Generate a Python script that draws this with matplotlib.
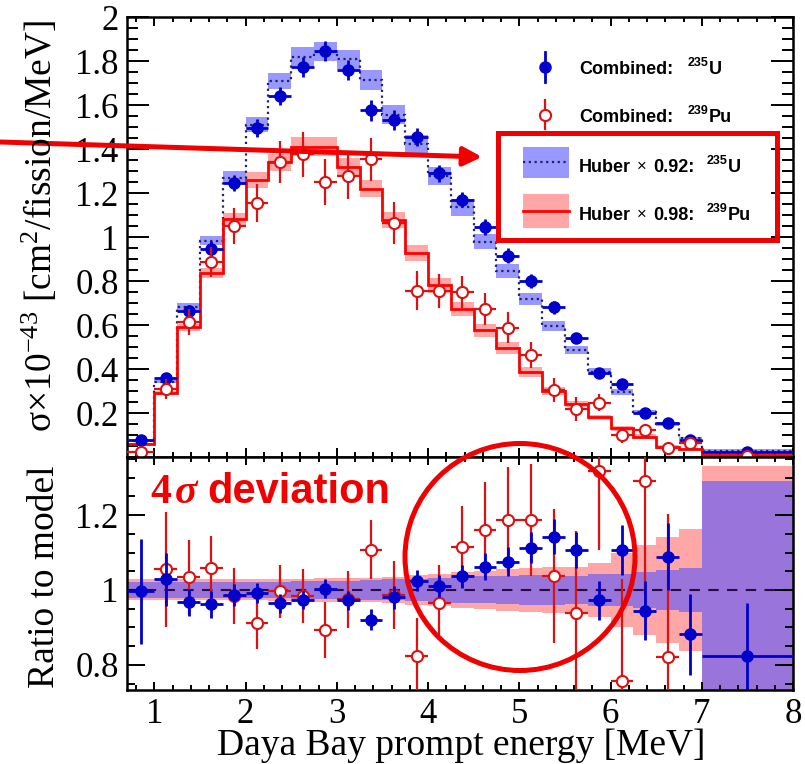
import matplotlib
matplotlib.use('Agg')
import matplotlib.pyplot as plt
import numpy as np
from matplotlib.patches import Rectangle, Ellipse, FancyArrowPatch
from matplotlib.lines import Line2D
from matplotlib.ticker import FixedLocator, FixedFormatter, MultipleLocator
from matplotlib.transforms import Affine2D

plt.rcParams['mathtext.fontset'] = 'custom'
plt.rcParams['mathtext.rm'] = 'Liberation Serif'
plt.rcParams['mathtext.it'] = 'Liberation Serif:italic'
plt.rcParams['mathtext.bf'] = 'Liberation Sans:bold'

# ---------------- data ----------------
bin_edges = [0.7, 1.0, 1.25, 1.5, 1.75, 2.0, 2.25, 2.5, 2.75, 3.0, 3.25, 3.5, 3.75,
             4.0, 4.25, 4.5, 4.75, 5.0, 5.25, 5.5, 5.75, 6.0, 6.25, 6.5, 6.75, 7.0, 8.0]

u235_data = [0.077, 0.359, 0.665, 0.945, 1.245, 1.495, 1.641, 1.773, 1.845, 1.759, 1.577, 1.532, 1.455,
             1.29, 1.17, 1.045, 0.914, 0.80, 0.68, 0.541, 0.38, 0.33, 0.20, 0.155, 0.078, 0.022]
u235_err = [0.011, 0.024, 0.025, 0.035, 0.038, 0.041, 0.043, 0.046, 0.046, 0.045, 0.048, 0.047, 0.041,
            0.038, 0.035, 0.035, 0.034, 0.030, 0.028, 0.024, 0.021, 0.020, 0.016, 0.0135, 0.009, 0.004]
pu239_data = [0.024, 0.309, 0.613, 0.886, 1.05, 1.155, 1.34, 1.377, 1.25, 1.277, 1.354, 1.063, 0.756,
              0.756, 0.75, 0.673, 0.588, 0.464, 0.305, 0.218, 0.247, 0.10, 0.123, 0.04, 0.063, 0.005]
pu239_err = [0.009, 0.045, 0.059, 0.070, 0.081, 0.088, 0.095, 0.102, 0.106, 0.102, 0.098, 0.097, 0.090,
             0.078, 0.073, 0.074, 0.069, 0.058, 0.053, 0.053, 0.038, 0.035, 0.028, 0.018, 0.013, 0.002]

u235_model = [0.075, 0.342, 0.683, 0.983, 1.27, 1.51, 1.71, 1.82, 1.842, 1.807, 1.714, 1.555, 1.423,
              1.277, 1.135, 0.979, 0.847, 0.718, 0.595, 0.488, 0.388, 0.297, 0.204, 0.15, 0.086, 0.027]
pu239_model = [0.06, 0.29, 0.59, 0.835, 1.08, 1.26, 1.34, 1.41, 1.41, 1.32, 1.22, 1.077, 0.927,
               0.78, 0.673, 0.577, 0.495, 0.386, 0.30, 0.24, 0.18, 0.13, 0.092, 0.047, 0.036, 0.01]
u235_model_relerr = [0.022, 0.022, 0.022, 0.022, 0.022, 0.022, 0.022, 0.023, 0.024, 0.025, 0.026, 0.028, 0.030,
                     0.032, 0.034, 0.036, 0.038, 0.039, 0.039, 0.038, 0.042, 0.044, 0.049, 0.053, 0.058, 0.29]
pu239_model_relerr = [0.028, 0.028, 0.028, 0.028, 0.028, 0.028, 0.029, 0.030, 0.031, 0.031, 0.032, 0.035, 0.039,
                      0.042, 0.047, 0.051, 0.056, 0.060, 0.062, 0.062, 0.071, 0.098, 0.12, 0.142, 0.164, 0.33]

u235_ratio = [0.996, 1.028, 0.967, 0.962, 0.987, 0.991, 0.964, 0.973, 1.003, 0.972, 0.92, 0.98, 1.025,
              1.011, 1.037, 1.062, 1.076, 1.113, 1.142, 1.107, 0.972, 1.107, 0.945, 1.089, 0.882, 0.825]
u235_ratio_err = [0.14, 0.07, 0.036, 0.036, 0.03, 0.027, 0.025, 0.025, 0.025, 0.025, 0.028, 0.03, 0.029,
                  0.03, 0.031, 0.036, 0.04, 0.042, 0.047, 0.049, 0.053, 0.067, 0.078, 0.09, 0.108, 0.14]
pu239_ratio = [0.40, 1.055, 1.034, 1.06, 0.984, 0.913, 0.996, 0.984, 0.893, 0.975, 1.108, 0.987, 0.824,
               0.966, 1.115, 1.16, 1.188, 1.187, 1.037, 0.938, 1.318, 0.758, 1.29, 0.822, 1.75, 0.50]
pu239_ratio_err = [0.15, 0.154, 0.1, 0.084, 0.075, 0.07, 0.071, 0.072, 0.075, 0.077, 0.08, 0.09, 0.1,
                   0.1, 0.108, 0.129, 0.14, 0.15, 0.178, 0.22, 0.21, 0.27, 0.3, 0.38, 0.35, 0.2]

top_yticks = [0.2, 0.4, 0.6, 0.8, 1.0, 1.2, 1.4, 1.6, 1.8, 2.0]
top_yticklabels = ['0.2', '0.4', '0.6', '0.8', '1', '1.2', '1.4', '1.6', '1.8', '2']
bot_yticks = [0.8, 1.0, 1.2]
bot_yticklabels = ['0.8', '1', '1.2']
xticks = [1, 2, 3, 4, 5, 6, 7, 8]
xticklabels = ['1', '2', '3', '4', '5', '6', '7', '8']

legend_entries = [
    [('Combined:', 'b'), ('gap', 14), ('235', 's'), ('U', 'b')],
    [('Combined:', 'b'), ('gap', 14), ('239', 's'), ('Pu', 'b')],
    [('Huber', 'b'), ('gap', 6), ('×', 'n'), ('gap', 6), ('0.92:', 'b'), ('gap', 12), ('235', 's'), ('U', 'b')],
    [('Huber', 'b'), ('gap', 6), ('×', 'n'), ('gap', 6), ('0.98:', 'b'), ('gap', 12), ('239', 's'), ('Pu', 'b')],
]

# ---------------- styles ----------------
BLUE = '#0000cc'
RED_PT = '#dd1111'
RED_LINE = '#ff0000'
RED_BAND = '#ffa6a6'
BLUE_BAND = (0.33, 0.33, 1.0, 0.6)
NAVY = '#222266'
ANN = '#f00000'

edges = np.array(bin_edges)
centers = 0.5 * (edges[:-1] + edges[1:])
halfw = 0.5 * (edges[1:] - edges[:-1])

W, H = 805, 764
fig = plt.figure(figsize=(W / 100, H / 100), dpi=100)
pix = Affine2D().scale(1.0 / W, -1.0 / H).translate(0, 1) + fig.transFigure


def ax_rect(l, t, r, b):
    return [l / W, 1 - b / H, (r - l) / W, (b - t) / H]


ax1 = fig.add_axes(ax_rect(127, 17, 793, 457))
ax2 = fig.add_axes(ax_rect(127, 457, 793, 690))

# ---------- top panel ----------
um = np.array(u235_model); pm = np.array(pu239_model)
ur = np.array(u235_model_relerr); pr = np.array(pu239_model_relerr)
ax1.stairs(pm * (1 + pr), edges, baseline=pm * (1 - pr), fill=True, color=RED_BAND, lw=0, zorder=1)
ax1.stairs(um * (1 + ur), edges, baseline=um * (1 - ur), fill=True, color=BLUE_BAND, lw=0, zorder=1.1)
ax1.stairs(um, edges, baseline=None, color=NAVY, lw=1.6, ls=(0, (1, 1.6)), zorder=2)
ax1.stairs(pm, edges, baseline=None, color=RED_LINE, lw=2, zorder=2)
ax1.errorbar(centers, u235_data, yerr=u235_err, xerr=halfw, fmt='o', color=BLUE, ms=8,
             elinewidth=2, capsize=0, zorder=3)
ax1.errorbar(centers, pu239_data, yerr=pu239_err, xerr=halfw, fmt='o', mfc='white', mec=RED_PT,
             ecolor=RED_PT, ms=8, mew=1.5, elinewidth=1.6, capsize=0, zorder=4)
ax1.set_ylim(0, 2)

# ---------- bottom panel ----------
ax2.stairs(1 + pr, edges, baseline=1 - pr, fill=True, color=RED_BAND, lw=0, zorder=1)
ax2.stairs(1 + ur, edges, baseline=1 - ur, fill=True, color=BLUE_BAND, lw=0, zorder=1.1)
ax2.axhline(1.0, color='#2a0a44', lw=1.5, ls=(0, (5, 4)), zorder=1.2)
ax2.errorbar(centers, pu239_ratio, yerr=pu239_ratio_err, xerr=halfw, fmt='o', mfc='white', mec=RED_PT,
             ecolor=RED_PT, ms=8, mew=1.5, elinewidth=1.6, capsize=0, zorder=3)
ax2.errorbar(centers, u235_ratio, yerr=u235_ratio_err, xerr=halfw, fmt='o', color=BLUE, ms=8,
             elinewidth=2, capsize=0, zorder=4)
ax2.set_ylim(0.733, 1.355)

for ax in (ax1, ax2):
    ax.set_xlim(0.7, 8)
    ax.xaxis.set_major_locator(FixedLocator(xticks))
    ax.xaxis.set_minor_locator(MultipleLocator(0.2))
    ax.yaxis.set_minor_locator(MultipleLocator(0.05))
    ax.tick_params(which='both', direction='in', top=True, right=True, width=1.4, color='black')
    ax.tick_params(labelsize=25, labelfontfamily='Liberation Serif')
    for s in ax.spines.values():
        s.set_linewidth(1.8)

ax1.yaxis.set_major_locator(FixedLocator(top_yticks))
ax1.yaxis.set_major_formatter(FixedFormatter(top_yticklabels))
ax1.tick_params(axis='y', which='major', length=16, pad=6)
ax1.tick_params(axis='y', which='minor', length=8)
ax1.tick_params(axis='x', which='major', length=6.5)
ax1.tick_params(axis='x', which='minor', length=3.6)
ax1.tick_params(axis='x', labelbottom=False)

ax2.yaxis.set_major_locator(FixedLocator(bot_yticks))
ax2.yaxis.set_major_formatter(FixedFormatter(bot_yticklabels))
ax2.xaxis.set_major_formatter(FixedFormatter(xticklabels))
ax2.tick_params(axis='y', which='major', length=13, pad=6)
ax2.tick_params(axis='y', which='minor', length=6)
ax2.tick_params(axis='x', which='major', length=6, pad=6)
ax2.tick_params(axis='x', which='minor', length=3.6)

# ---------- axis titles ----------
fig.text(461, 755, 'Daya Bay prompt energy [MeV]', transform=pix, ha='center', va='baseline',
         fontfamily='Liberation Serif', fontsize=27)
fig.text(45, 577, 'Ratio to model', transform=pix, ha='center', va='center', rotation=90,
         fontfamily='Liberation Serif', fontsize=27)
fig.text(40, 226, r'$\mathrm{\sigma{\times}10^{-43}\ [cm^{2}/fission/MeV]}$', transform=pix,
         ha='center', va='center', rotation=90, fontsize=27)

# ---------- legend ----------
fig.add_artist(Line2D([545, 545], [52, 82], transform=pix, color=BLUE, lw=2))
fig.add_artist(Line2D([545], [67], transform=pix, color=BLUE, marker='o', ms=8, ls='none'))
fig.add_artist(Line2D([545, 545], [100, 129], transform=pix, color=RED_PT, lw=1.6))
fig.add_artist(Line2D([545], [115], transform=pix, marker='o', ms=8, mfc='white', mec=RED_PT,
                      mew=1.5, ls='none'))
fig.add_artist(Rectangle((523, 147), 46, 31, transform=pix, facecolor=BLUE_BAND, edgecolor='none'))
fig.add_artist(Line2D([523, 569], [162, 162], transform=pix, color=NAVY, lw=1.6, ls=(0, (1, 1.6))))
fig.add_artist(Rectangle((523, 194), 46, 34, transform=pix, facecolor=RED_BAND, edgecolor='none'))
fig.add_artist(Line2D([523, 569], [211, 211], transform=pix, color=RED_LINE, lw=2))

renderer = fig.canvas.get_renderer()
leg_baselines = [74, 122, 172, 220]
for entry, yb in zip(legend_entries, leg_baselines):
    x = 579
    for s, kind in entry:
        if s == 'gap':
            x += kind
            continue
        if kind == 'b':
            t = fig.text(x, yb, s, transform=pix, fontsize=13, fontweight='bold',
                         fontfamily='Liberation Sans', va='baseline', ha='left')
        elif kind == 's':
            t = fig.text(x, yb - 8, s, transform=pix, fontsize=9, fontweight='bold',
                         fontfamily='Liberation Sans', va='baseline', ha='left')
        else:
            t = fig.text(x, yb - 1, s, transform=pix, fontsize=12,
                         fontfamily='Liberation Sans', va='baseline', ha='left')
        x += t.get_window_extent(renderer).width + (1 if kind == 's' else 0)

# ---------- annotations ----------
fig.add_artist(Rectangle((498, 133), 279, 107, transform=pix, fill=False, edgecolor=ANN, lw=3.6))
fig.add_artist(FancyArrowPatch((0, 142), (482, 157), transform=pix, color=ANN, lw=3.6,
                               arrowstyle='-|>,head_length=0.55,head_width=0.28', mutation_scale=20,
                               shrinkA=0, shrinkB=0))
fig.add_artist(Ellipse((520, 557), 230, 227, transform=pix, fill=False, edgecolor=ANN, lw=3.6))

fig.text(150, 503, '4', transform=pix, color=ANN, fontsize=30, fontweight='bold',
         fontfamily='Liberation Serif', va='baseline')
fig.text(175, 503, 'σ', transform=pix, color=ANN, fontsize=30, fontweight='bold', fontstyle='italic',
         fontfamily='Liberation Serif', va='baseline')
fig.text(207, 503, 'deviation', transform=pix, color=ANN, fontsize=30, fontweight='bold',
         fontfamily='Liberation Sans', va='baseline')

fig.savefig('out.png', dpi=100)
